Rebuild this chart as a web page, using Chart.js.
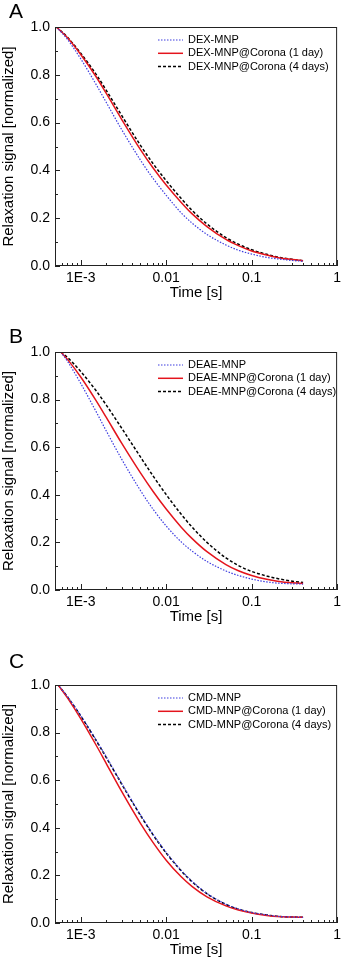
<!DOCTYPE html>
<html>
<head>
<meta charset="utf-8">
<script src="https://cdn.jsdelivr.net/npm/chart.js@4.4.1/dist/chart.umd.min.js"></script>
<style>
  html, body { margin: 0; padding: 0; background: #fff; width: 345px; height: 962px; overflow: hidden; }
  .panel { position: absolute; left: 0; width: 345px; }
  canvas { display: block; }
</style>
</head>
<body>
<div class="panel" style="top:0"><canvas id="chartA" width="345" height="320"></canvas></div>
<div class="panel" style="top:320px"><canvas id="chartB" width="345" height="320"></canvas></div>
<div class="panel" style="top:640px"><canvas id="chartC" width="345" height="322"></canvas></div>
<script>
// tick values / labels
const xTicks = [1e-3, 0.01, 0.1, 1];
const xTickLabels = ['1E-3', '0.01', '0.1', '1'];
const yTicks = [0, 0.2, 0.4, 0.6, 0.8, 1.0];

// time points (s)
const timesA = [5.2e-4, 7e-4, 1e-3, 1.5e-3, 2e-3, 3e-3, 5e-3, 7e-3, 0.01, 0.015, 0.02, 0.03, 0.05, 0.07, 0.1, 0.15, 0.2, 0.3, 0.4];
const timesB = [5.85e-4, 7e-4, 1e-3, 1.5e-3, 2e-3, 3e-3, 5e-3, 7e-3, 0.01, 0.015, 0.02, 0.03, 0.05, 0.07, 0.1, 0.15, 0.2, 0.3, 0.4];
const timesC = [5.45e-4, 7e-4, 1e-3, 1.5e-3, 2e-3, 3e-3, 5e-3, 7e-3, 0.01, 0.015, 0.02, 0.03, 0.05, 0.07, 0.1, 0.15, 0.2, 0.3, 0.4];

// A: DEX
const dexMnp      = [1.0, 0.948, 0.867, 0.762, 0.683, 0.572, 0.443, 0.367, 0.296, 0.222, 0.180, 0.132, 0.088, 0.066, 0.050, 0.036, 0.030, 0.023, 0.020];
const dexCorona1  = [1.0, 0.955, 0.885, 0.794, 0.721, 0.615, 0.487, 0.411, 0.339, 0.266, 0.219, 0.165, 0.111, 0.085, 0.063, 0.046, 0.036, 0.027, 0.022];
const dexCorona4  = [1.0, 0.957, 0.890, 0.804, 0.734, 0.631, 0.505, 0.429, 0.357, 0.282, 0.233, 0.176, 0.119, 0.091, 0.068, 0.049, 0.038, 0.028, 0.022];

// B: DEAE
const deaeMnp     = [1.0, 0.961, 0.868, 0.752, 0.667, 0.551, 0.418, 0.340, 0.269, 0.202, 0.164, 0.120, 0.080, 0.061, 0.046, 0.034, 0.029, 0.026, 0.025];
const deaeCorona1 = [1.0, 0.969, 0.895, 0.798, 0.724, 0.618, 0.492, 0.415, 0.340, 0.264, 0.217, 0.161, 0.107, 0.081, 0.061, 0.045, 0.037, 0.030, 0.0275];
const deaeCorona4 = [1.0, 0.977, 0.918, 0.839, 0.776, 0.681, 0.559, 0.480, 0.401, 0.318, 0.265, 0.200, 0.135, 0.103, 0.078, 0.059, 0.048, 0.037, 0.032];

// C: CMD
const cmdMnp      = [1.0, 0.951, 0.872, 0.772, 0.697, 0.588, 0.455, 0.374, 0.297, 0.221, 0.176, 0.124, 0.079, 0.059, 0.044, 0.034, 0.028, 0.025, 0.024];
const cmdCorona1  = [1.0, 0.946, 0.859, 0.750, 0.669, 0.554, 0.419, 0.339, 0.264, 0.194, 0.154, 0.110, 0.072, 0.055, 0.042, 0.032, 0.027, 0.025, 0.024];
const cmdCorona4  = [1.0, 0.950, 0.870, 0.769, 0.694, 0.585, 0.452, 0.371, 0.294, 0.219, 0.174, 0.123, 0.078, 0.058, 0.044, 0.034, 0.028, 0.025, 0.024];

const labelsA = ['DEX-MNP', 'DEX-MNP@Corona (1 day)', 'DEX-MNP@Corona (4 days)'];
const labelsB = ['DEAE-MNP', 'DEAE-MNP@Corona (1 day)', 'DEAE-MNP@Corona (4 days)'];
const labelsC = ['CMD-MNP', 'CMD-MNP@Corona (1 day)', 'CMD-MNP@Corona (4 days)'];

const colors = ['#3c3ce0', '#e4141c', '#000000'];
const widths = [1.2, 1.5, 1.5];
const dashes = [[1.5, 1.5], [], [3, 2]];

Chart.defaults.font.family = '"Liberation Sans", Arial, sans-serif';
Chart.defaults.color = '#000';

// frame, inward ticks, legend and panel letter
const framePlugin = {
  id: 'frame',
  afterDraw(chart, args, opts) {
    const { ctx, chartArea: a, scales: { x, y } } = chart;
    ctx.save();
    ctx.strokeStyle = '#222';
    ctx.lineWidth = 1;
    ctx.setLineDash([]);
    ctx.strokeRect(a.left + 0.5, a.top + 0.5, a.right - a.left - 1, a.bottom - a.top - 1);
    ctx.beginPath();
    for (let k = 0; k <= 10; k++) {
      const py = Math.round(y.getPixelForValue(k / 10)) + 0.5;
      const len = k % 2 === 0 ? 5 : 3;
      ctx.moveTo(a.left, py);
      ctx.lineTo(a.left + len, py);
    }
    for (let e = -4; e <= 0; e++) {
      for (let m = 1; m <= 9; m++) {
        const t = m * Math.pow(10, e);
        if (t < x.min * 0.999 || t > x.max * 1.001) continue;
        const px = Math.round(x.getPixelForValue(t)) + 0.5;
        ctx.moveTo(px, a.bottom);
        ctx.lineTo(px, a.bottom - (m === 1 ? 6 : 3));
      }
    }
    ctx.stroke();

    // legend
    ctx.font = '11px "Liberation Sans", Arial, sans-serif';
    ctx.textBaseline = 'middle';
    ctx.fillStyle = '#000';
    chart.data.datasets.forEach((ds, i) => {
      const ly = a.top + 13 + i * 13.3;
      ctx.beginPath();
      ctx.strokeStyle = ds.borderColor;
      ctx.lineWidth = ds.borderWidth;
      ctx.setLineDash(ds.borderDash);
      ctx.moveTo(158, ly);
      ctx.lineTo(183, ly);
      ctx.stroke();
      ctx.setLineDash([]);
      ctx.fillText(ds.label, 188, ly);
    });

    ctx.font = '21px "Liberation Sans", Arial, sans-serif';
    ctx.textBaseline = 'alphabetic';
    ctx.fillText(opts.letter, 9, a.top - opts.letterGap);
    ctx.restore();
  }
};

function makePanel(id, letter, letterGap, padTop, padBottom, times, series, labels) {
  return new Chart(document.getElementById(id), {
    type: 'line',
    data: {
      datasets: series.map((vals, i) => ({
        label: labels[i],
        data: times.map((t, k) => ({ x: t, y: vals[k] })),
        borderColor: colors[i],
        borderWidth: widths[i],
        borderDash: dashes[i],
        pointRadius: 0,
        fill: false,
        cubicInterpolationMode: 'monotone'
      }))
    },
    options: {
      responsive: false,
      animation: false,
      layout: { padding: { top: padTop, right: 3, left: 0, bottom: padBottom } },
      plugins: {
        legend: { display: false },
        tooltip: { enabled: false },
        frame: { letter: letter, letterGap: letterGap }
      },
      scales: {
        x: {
          type: 'logarithmic',
          min: 5e-4,
          max: 1,
          grid: { display: false, drawTicks: false },
          border: { display: false },
          afterBuildTicks: s => { s.ticks = xTicks.map(v => ({ value: v })); },
          afterFit: s => { s.height = 37; },
          ticks: {
            callback: v => xTickLabels[xTicks.indexOf(v)],
            font: { size: 14 },
            padding: 4,
            maxRotation: 0,
            autoSkip: false
          },
          title: { display: true, text: 'Time [s]', font: { size: 15 }, padding: { top: 0, bottom: 1 } }
        },
        y: {
          min: 0,
          max: 1,
          grid: { display: false, drawTicks: false },
          border: { display: false },
          afterBuildTicks: s => { s.ticks = yTicks.map(v => ({ value: v })); },
          afterFit: s => { s.width = 55; },
          ticks: { callback: v => v.toFixed(1), font: { size: 14 }, padding: 5 },
          title: { display: true, text: 'Relaxation signal [normalized]', font: { size: 15 }, padding: { top: 0, bottom: 0 } }
        }
      }
    },
    plugins: [framePlugin]
  });
}

makePanel('chartA', 'A', 9, 27, 17, timesA, [dexMnp, dexCorona1, dexCorona4], labelsA);
makePanel('chartB', 'B', 9, 32, 13, timesB, [deaeMnp, deaeCorona1, deaeCorona4], labelsB);
makePanel('chartC', 'C', 17, 45, 2, timesC, [cmdMnp, cmdCorona1, cmdCorona4], labelsC);
</script>
</body>
</html>
